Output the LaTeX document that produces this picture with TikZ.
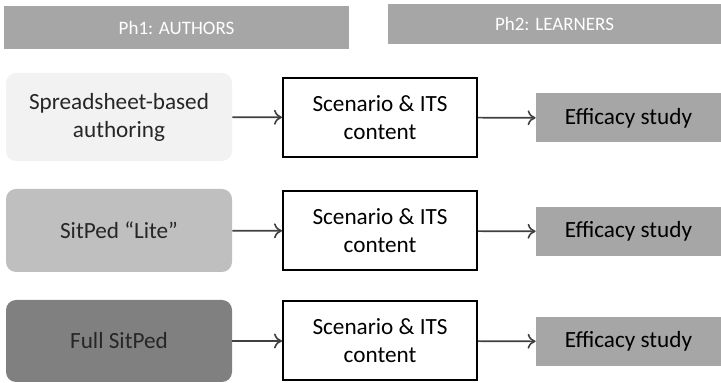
\documentclass[tikz,border=0pt]{standalone}
\usepackage{fontspec}
\setmainfont{Carlito}
\usetikzlibrary{arrows.meta}
\tikzset{
  phase/.style={
    fill=phasegray,
    text=white,
    inner sep=0pt,
    font=\fontsize{9.5pt}{11pt}\selectfont
  },
  tool/.style={
    rounded corners=5pt,
    inner sep=0pt,
    text=toolink,
    align=center,
    minimum width=113pt
  },
  content/.style={
    draw=black,
    line width=1pt,
    fill=white,
    inner sep=0pt,
    align=center,
    minimum width=97pt,
    minimum height=39.5pt
  },
  study/.style={
    fill=phasegray,
    inner sep=0pt,
    minimum width=92.5pt,
    minimum height=24.5pt
  },
  flow/.style={
    -{To[length=4pt,width=7.5pt]},
    draw=flowgray,
    line width=0.8pt
  }
}
\definecolor{phasegray}{HTML}{A6A6A6}
\definecolor{toolink}{HTML}{262626}
\definecolor{flowgray}{HTML}{404040}

\begin{document}
\begin{tikzpicture}[x=0.5pt,y=-0.5pt,font=\fontsize{11.6pt}{14pt}\selectfont]
  \useasboundingbox (0,0) rectangle (721,383);

  % phases
  \node[phase,minimum width=172.5pt,minimum height=21.5pt] (ph1) at (176.5,27.5) {Ph1: AUTHORS};
  \node[phase,minimum width=166.5pt,minimum height=20pt] (ph2) at (554.5,24) {Ph2: LEARNERS};

  % authoring tools
  \node[tool,fill=black!5,minimum height=44pt] (sheet) at (119,117) {Spreadsheet-based\\authoring};
  \node[tool,fill=black!25,minimum height=41.5pt] (lite) at (119,230.5) {SitPed ``Lite''};
  \node[tool,fill=black!50,minimum height=41pt] (full) at (119,341) {Full SitPed};

  % content
  \node[content] (cont1) at (380,117.5) {Scenario \& ITS\\content};
  \node[content] (cont2) at (380,231) {Scenario \& ITS\\content};
  \node[content] (cont3) at (380,341) {Scenario \& ITS\\content};

  % learners
  \node[study] (study1) at (628.5,118) {Efficacy study};
  \node[study] (study2) at (628.5,231.5) {Efficacy study};
  \node[study] (study3) at (628.5,341.5) {Efficacy study};

  \draw[flow] (sheet) -- (cont1);
  \draw[flow] (lite) -- (cont2);
  \draw[flow] (full) -- (cont3);
  \draw[flow] (cont1) -- (study1);
  \draw[flow] (cont2) -- (study2);
  \draw[flow] (cont3) -- (study3);
\end{tikzpicture}
\end{document}
